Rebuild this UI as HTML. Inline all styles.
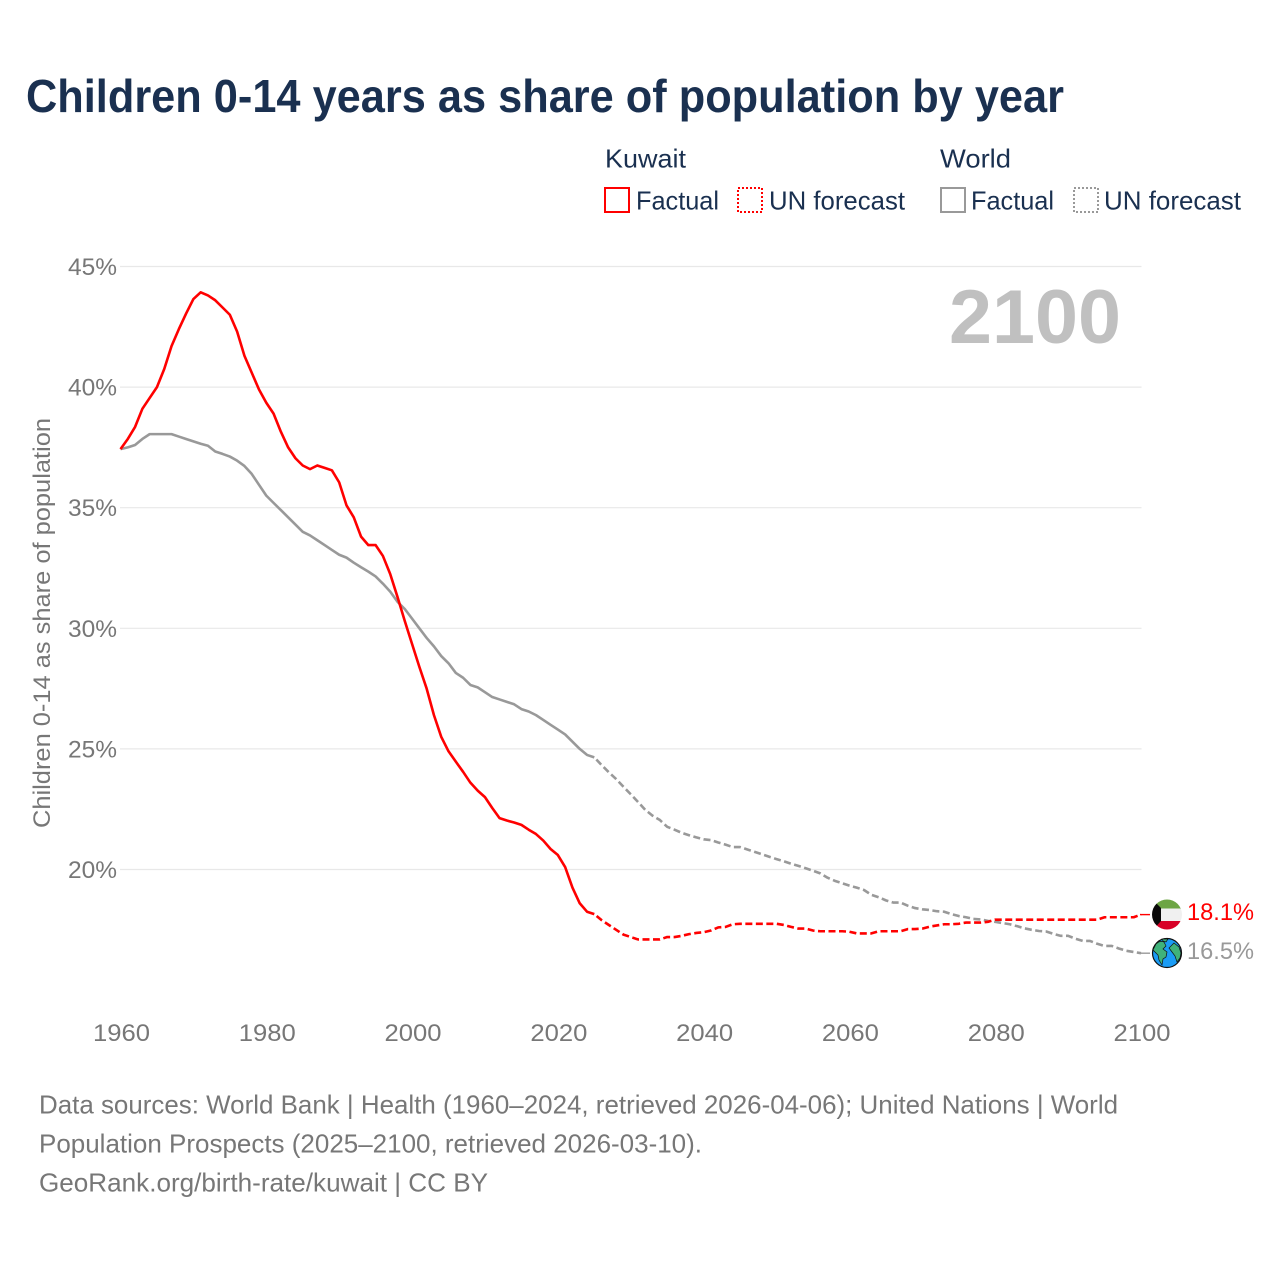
<!DOCTYPE html>
<html lang="en">
<head>
<meta charset="utf-8">
<title>Children 0-14 years as share of population by year</title>
<style>
html,body{margin:0;padding:0;background:#fff;}
svg{display:block;font-family:"Liberation Sans",Arial,sans-serif;}
</style>
</head>
<body>
<svg id="chart" xmlns="http://www.w3.org/2000/svg" width="1280" height="1280" viewBox="0 0 1280 1280">
  <rect x="0" y="0" width="1280" height="1280" fill="#ffffff"/>
  <text x="26" y="112" font-size="46" font-weight="700" fill="#1a3050" textLength="1038" lengthAdjust="spacingAndGlyphs">Children 0-14 years as share of population by year</text>

  <g font-size="26" fill="#1a3050">
    <text x="605" y="167.5" textLength="81" lengthAdjust="spacingAndGlyphs">Kuwait</text>
    <text x="940" y="167.5" textLength="71" lengthAdjust="spacingAndGlyphs">World</text>
    <rect x="605" y="188" width="24" height="24" fill="none" stroke="#ff0000" stroke-width="2"/>
    <text x="636" y="209.5" textLength="83" lengthAdjust="spacingAndGlyphs">Factual</text>
    <rect x="738" y="188" width="24" height="24" fill="none" stroke="#ff0000" stroke-width="2" stroke-dasharray="2 2"/>
    <text x="769" y="209.5" textLength="136" lengthAdjust="spacingAndGlyphs">UN forecast</text>
    <rect x="941" y="188" width="24" height="24" fill="none" stroke="#999999" stroke-width="2"/>
    <text x="971" y="209.5" textLength="83" lengthAdjust="spacingAndGlyphs">Factual</text>
    <rect x="1074" y="188" width="24" height="24" fill="none" stroke="#999999" stroke-width="2" stroke-dasharray="2 2"/>
    <text x="1104" y="209.5" textLength="137" lengthAdjust="spacingAndGlyphs">UN forecast</text>
  </g>

  <g id="grid"></g>
  <g id="yticks"></g>
  <g id="xticks"></g>
  <text transform="translate(50 623) rotate(-90)" text-anchor="middle" font-size="24" fill="#777777" textLength="410" lengthAdjust="spacingAndGlyphs">Children 0-14 as share of population</text>
  <text x="949" y="343" font-size="76" font-weight="700" fill="#c0c0c0" textLength="172" lengthAdjust="spacingAndGlyphs">2100</text>

  <g id="series"></g>

  <g id="flag">
    <clipPath id="flagClip"><circle cx="1167" cy="914.5" r="15"/></clipPath>
    <g clip-path="url(#flagClip)">
      <rect x="1150" y="898" width="34" height="11" fill="#6da544"/>
      <rect x="1150" y="908.5" width="34" height="12.5" fill="#f0f0f0"/>
      <rect x="1150" y="921" width="34" height="10" fill="#d80027"/>
      <polygon points="1150,898 1152,899 1161,908 1161,921 1152,931 1150,931" fill="#0a0a0a"/>
    </g>
  </g>
  <g id="globe">
    <circle cx="1167" cy="953" r="14.5" fill="#1a9cf5" stroke="#111" stroke-width="1.2"/>
    <path d="M1156 944 q4 -4 8 -2 l2 4 -3 3 4 3 -1 5 -3 2 -1 6 -3 -5 -1 -5 -5 -5z" fill="#3fb27a" stroke="#111" stroke-width=".7"/>
    <path d="M1174 943 l5 4 2 6 -1 5 -3 4 -2 -6 -3 -4 -3 -4z" fill="#3fb27a" stroke="#111" stroke-width=".7"/>
    <path d="M1162 939 l6 0 -2 3 -3 -1z" fill="#3fb27a" stroke="#111" stroke-width=".7"/>
  </g>

  <text id="kuwait-value" x="1187" y="920" font-size="24" fill="#ff0000" textLength="67" lengthAdjust="spacingAndGlyphs">18.1%</text>
  <text id="world-value" x="1187" y="959" font-size="24" fill="#999999" textLength="67" lengthAdjust="spacingAndGlyphs">16.5%</text>

  <g font-size="26" fill="#777777">
    <text x="39" y="1113.5" textLength="1079" lengthAdjust="spacingAndGlyphs">Data sources: World Bank | Health (1960–2024, retrieved 2026-04-06); United Nations | World</text>
    <text x="39" y="1152.5" textLength="663" lengthAdjust="spacingAndGlyphs">Population Prospects (2025–2100, retrieved 2026-03-10).</text>
    <text x="39" y="1191.5" textLength="449" lengthAdjust="spacingAndGlyphs">GeoRank.org/birth-rate/kuwait | CC BY</text>
  </g>
</svg>
<script>
var yTickValues = [20, 25, 30, 35, 40, 45];
var xTickYears = [1960, 1980, 2000, 2020, 2040, 2060, 2080, 2100];

var kuwaitFactualStart = 1960;
var kuwaitFactual = [37.43,37.85,38.35,39.1,39.55,40,40.75,41.7,42.4,43.05,43.65,43.93,43.8,43.6,43.3,43,42.3,41.3,40.6,39.9,39.35,38.9,38.15,37.5,37.05,36.75,36.6,36.75,36.65,36.55,36.05,35.1,34.6,33.8,33.45,33.45,33,32.25,31.3,30.3,29.35,28.4,27.5,26.4,25.5,24.9,24.47,24.05,23.6,23.27,23,22.55,22.13,22.03,21.95,21.85,21.65,21.47,21.2,20.85,20.6,20.1,19.25,18.6,18.25,18.15];
var kuwaitForecastStart = 2025;
var kuwaitForecast = [18.15,17.9,17.7,17.5,17.3,17.2,17.1,17.1,17.1,17.1,17.2,17.2,17.25,17.32,17.37,17.4,17.47,17.6,17.62,17.73,17.75,17.75,17.75,17.75,17.75,17.75,17.7,17.62,17.55,17.55,17.47,17.44,17.44,17.44,17.44,17.42,17.35,17.35,17.35,17.44,17.44,17.44,17.44,17.53,17.53,17.55,17.63,17.68,17.73,17.73,17.75,17.8,17.8,17.8,17.83,17.92,17.92,17.92,17.92,17.92,17.92,17.92,17.92,17.92,17.92,17.92,17.92,17.92,17.92,17.92,18.02,18.02,18.02,18.02,18.02,18.13];

var worldFactualStart = 1960;
var worldFactual = [37.43,37.5,37.6,37.85,38.05,38.05,38.05,38.05,37.95,37.85,37.75,37.65,37.57,37.33,37.23,37.12,36.95,36.73,36.4,35.95,35.5,35.2,34.9,34.6,34.3,34,33.85,33.65,33.45,33.25,33.05,32.93,32.72,32.53,32.35,32.15,31.85,31.52,31.1,30.8,30.4,30,29.6,29.25,28.85,28.55,28.15,27.95,27.65,27.55,27.35,27.15,27.05,26.95,26.85,26.65,26.55,26.4,26.2,26,25.8,25.6,25.3,25,24.75,24.65];
var worldForecastStart = 2025;
var worldForecast = [24.65,24.33,24.03,23.75,23.43,23.12,22.8,22.47,22.23,22.05,21.77,21.65,21.52,21.42,21.33,21.25,21.22,21.12,21.03,20.93,20.93,20.83,20.73,20.63,20.53,20.43,20.34,20.24,20.15,20.05,19.95,19.84,19.66,19.53,19.43,19.33,19.25,19.15,18.95,18.85,18.72,18.63,18.63,18.5,18.4,18.35,18.32,18.27,18.25,18.15,18.07,18.02,17.95,17.93,17.87,17.83,17.78,17.73,17.65,17.56,17.5,17.45,17.43,17.33,17.25,17.25,17.13,17.04,17.04,16.92,16.83,16.83,16.72,16.63,16.58,16.53];

var NS = 'http://www.w3.org/2000/svg';
function xScale(year) { return 120.5 + (year - 1960) * (1141 - 120.5) / 140; }
function yScale(pct) { return 869.5 - (pct - 20) * (869.5 - 266.5) / 25; }

function make(tag, parentId) {
  var el = document.createElementNS(NS, tag);
  document.getElementById(parentId).appendChild(el);
  return el;
}
function linePoints(values, startYear) {
  return values.map(function (v, i) {
    return xScale(startYear + i).toFixed(2) + ',' + yScale(v).toFixed(2);
  }).join(' ');
}

yTickValues.forEach(function (v) {
  var line = make('line', 'grid');
  
  
  line.setAttribute('x1', 120);
  line.setAttribute('x2', 1141.5);
  line.setAttribute('y1', yScale(v));
  line.setAttribute('y2', yScale(v));
  line.setAttribute('stroke', '#e8e8e8');
  line.setAttribute('stroke-width', '1.2');

  var label = make('text', 'yticks');
  
  
  label.setAttribute('x', 117);
  label.setAttribute('y', yScale(v) + 8.5);
  label.setAttribute('text-anchor', 'end');
  label.setAttribute('font-size', '24');
  label.setAttribute('fill', '#777777');
  label.setAttribute('textLength', '49');
  label.setAttribute('lengthAdjust', 'spacingAndGlyphs');
  label.textContent = v + '%';
});

xTickYears.forEach(function (year) {
  var label = make('text', 'xticks');
  
  
  label.setAttribute('x', xScale(year) + 1);
  label.setAttribute('y', 1041);
  label.setAttribute('text-anchor', 'middle');
  label.setAttribute('font-size', '24');
  label.setAttribute('fill', '#777777');
  label.setAttribute('textLength', '57');
  label.setAttribute('lengthAdjust', 'spacingAndGlyphs');
  label.textContent = year;
});

function drawLine(values, startYear, color, dashed, name) {
  var p = make('polyline', 'series');
  
  
  p.setAttribute('points', linePoints(values, startYear));
  p.setAttribute('fill', 'none');
  p.setAttribute('stroke', color);
  p.setAttribute('stroke-width', '2.6');
  p.setAttribute('stroke-linejoin', 'round');
  if (dashed) {
    p.setAttribute('stroke-dasharray', '7 3.5');
    p.setAttribute('stroke-dashoffset', '-3');
  }
}
function drawConnector(value, color, name) {
  var c = make('line', 'series');
  
  
  c.setAttribute('x1', xScale(2100) - 1);
  c.setAttribute('x2', xScale(2100) + 9);
  c.setAttribute('y1', yScale(value));
  c.setAttribute('y2', yScale(value));
  c.setAttribute('stroke', color);
  c.setAttribute('stroke-width', '1.4');
}

drawLine(worldFactual, worldFactualStart, '#999999', false, 'world-factual-line');
drawLine(worldForecast, worldForecastStart, '#999999', true, 'world-forecast-line');
drawLine(kuwaitFactual, kuwaitFactualStart, '#ff0000', false, 'kuwait-factual-line');
drawLine(kuwaitForecast, kuwaitForecastStart, '#ff0000', true, 'kuwait-forecast-line');
drawConnector(kuwaitForecast[kuwaitForecast.length - 1], '#ff0000', 'kuwait-connector');
drawConnector(worldForecast[worldForecast.length - 1], '#999999', 'world-connector');
</script>
</body>
</html>
